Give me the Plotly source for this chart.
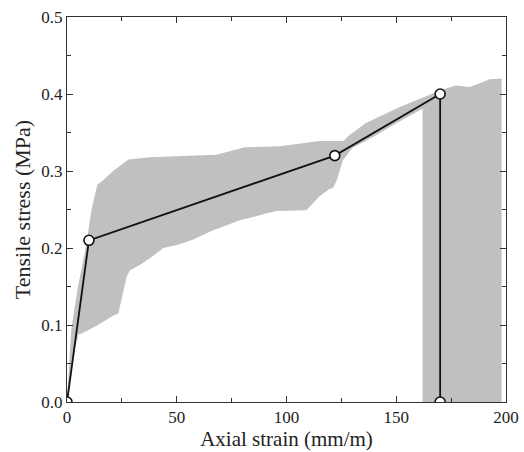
import plotly.graph_objects as go

# Main tensile stress-strain curve (mm/m, MPa)
curve_x = [0, 10, 122, 170, 170]
curve_y = [0.0, 0.21, 0.32, 0.40, 0.0]

# Grey scatter band: upper boundary (left to right)
upper_x = [0, 1, 2, 5, 8.5, 11.2, 13.8, 16.5, 21, 28, 37.8, 50, 68, 81, 97, 115, 126,
           128, 136, 151.6, 163.7, 171, 177.4, 183.5, 188, 192.6, 198]
upper_y = [0.0, 0.05, 0.095, 0.15, 0.20, 0.25, 0.282, 0.288, 0.30, 0.315, 0.318, 0.319,
           0.321, 0.331, 0.332, 0.339, 0.339, 0.345, 0.362, 0.383, 0.398, 0.406, 0.411,
           0.409, 0.414, 0.419, 0.420]

# Right block (specimens still carrying load beyond ~162 mm/m)
block_x = [198, 162]
block_y = [0.0, 0.0]

# Lower boundary (right to left)
lower_x = [162, 150, 140, 130, 125.7, 122.9, 121.2, 119.7, 115, 109, 95.4, 91, 78.8,
           66.6, 57.5, 51.4, 43.9, 39.3, 33.2, 28.7, 27.2, 23.4, 21, 13.5, 6.7, 5.2, 2, 0]
lower_y = [0.381, 0.362, 0.345, 0.330, 0.314, 0.288, 0.278, 0.277, 0.267, 0.249, 0.248,
           0.245, 0.236, 0.223, 0.211, 0.205, 0.200, 0.190, 0.178, 0.171, 0.163, 0.115,
           0.112, 0.099, 0.089, 0.088, 0.05, 0.0]

band_x = upper_x + block_x + lower_x
band_y = upper_y + block_y + lower_y

fig = go.Figure()
fig.add_trace(go.Scatter(
    x=band_x, y=band_y, mode="lines", fill="toself",
    fillcolor="#c0c0c0", line=dict(width=0, color="#c0c0c0"),
    hoverinfo="skip", showlegend=False))
fig.add_trace(go.Scatter(
    x=curve_x, y=curve_y, mode="lines+markers",
    line=dict(color="#111111", width=1.8),
    marker=dict(size=10, color="white", line=dict(color="#111111", width=1.6)),
    cliponaxis=True, showlegend=False))

font_family = "Liberation Serif, Times New Roman, serif"
axis_common = dict(
    showline=True, linecolor="#333333", linewidth=1, mirror="allticks",
    ticks="inside", ticklen=6, tickwidth=1, tickcolor="#333333",
    showgrid=False, zeroline=False, automargin=False,
    tickfont=dict(family=font_family, size=17, color="#222222"),
)
fig.update_xaxes(
    range=[0, 200], tickvals=[0, 50, 100, 150, 200],
    minor=dict(tickvals=[25, 75, 125, 175], ticks="inside", ticklen=4,
               tickcolor="#333333"),
    title=dict(text="Axial strain (mm/m)", standoff=2,
               font=dict(family=font_family, size=21, color="#222222")),
    **axis_common)
fig.update_yaxes(
    range=[0, 0.5], tickvals=[0, 0.1, 0.2, 0.3, 0.4, 0.5],
    ticktext=["0.0", "0.1", "0.2", "0.3", "0.4", "0.5"],
    minor=dict(tickvals=[0.05, 0.15, 0.25, 0.35, 0.45], ticks="inside", ticklen=4,
               tickcolor="#333333"),
    title=dict(text="Tensile stress (MPa)", standoff=4,
               font=dict(family=font_family, size=22, color="#222222")),
    **axis_common)

fig.update_layout(
    width=524, height=452,
    margin=dict(l=67, r=18, t=17, b=50),
    paper_bgcolor="white", plot_bgcolor="white",
)
fig.write_html(
    "out.html",
    config={"displayModeBar": False},
    post_script="document.body.style.margin='0px';document.body.style.overflow='hidden';",
)
